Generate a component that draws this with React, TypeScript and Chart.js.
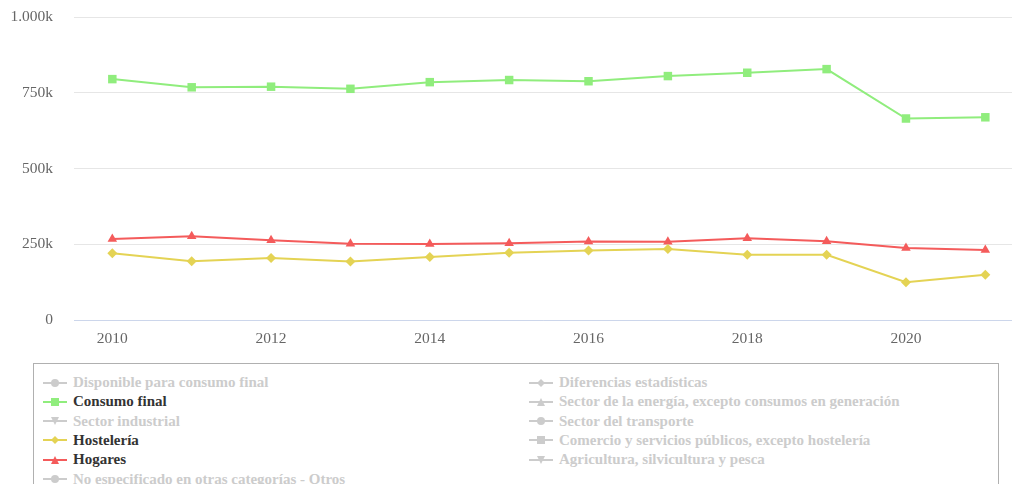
import React, { useEffect, useRef } from "react";
import { Chart, registerables } from "chart.js";

Chart.register(...registerables);

const years = [2010, 2011, 2012, 2013, 2014, 2015, 2016, 2017, 2018, 2019, 2020, 2021];
const xTickYears = [2010, 2012, 2014, 2016, 2018, 2020];
const yTickValues = [0, 250000, 500000, 750000, 1000000];

const consumoFinal = [795000, 768000, 770000, 763000, 785000, 792000, 788000, 805000, 816000, 828000, 665000, 669000];
const hosteleria = [220000, 194000, 205000, 193000, 208000, 222000, 229000, 234000, 215000, 215000, 125000, 149000];
const hogares = [267000, 276000, 263000, 252000, 251000, 253000, 259000, 258000, 270000, 260000, 238000, 231000];

const seriesNames = [
  "Disponible para consumo final",
  "Diferencias estadísticas",
  "Consumo final",
  "Sector de la energía, excepto consumos en generación",
  "Sector industrial",
  "Sector del transporte",
  "Hostelería",
  "Comercio y servicios públicos, excepto hostelería",
  "Hogares",
  "Agricultura, silvicultura y pesca",
  "No especificado en otras categorías - Otros",
];
const seriesColors = [
  "#7cb5ec", "#434348", "#90ed7d", "#f7a35c", "#8085e9", "#f15c80",
  "#e4d354", "#2b908f", "#f45b5b", "#91e8e1", "#7cb5ec",
];
const seriesSymbols = [
  "circle", "diamond", "square", "triangle", "triangle-down", "circle",
  "diamond", "square", "triangle", "triangle-down", "circle",
];
const seriesValues: number[][] = [[], [], consumoFinal, [], [], [], hosteleria, [], hogares, [], []];
const seriesVisible = [false, false, true, false, false, false, true, false, true, false, false];

const FONT = "'Liberation Serif', serif";

function pointStyleOf(sym: string) {
  if (sym === "diamond") return { style: "rectRot", radius: 5, rotation: 0 };
  if (sym === "square") return { style: "rect", radius: 6, rotation: 0 };
  if (sym === "triangle") return { style: "triangle", radius: 5.5, rotation: 0 };
  if (sym === "triangle-down") return { style: "triangle", radius: 5.5, rotation: 180 };
  return { style: "circle", radius: 4, rotation: 0 };
}

function fmt(v: number) {
  if (v === 0) return "0";
  const k = Math.round(v / 1000);
  return k.toLocaleString("de-DE") + "k";
}

function Symbol({ sym, color }: { sym: string; color: string }) {
  let shape: any = null;
  const cx = 12, cy = 6;
  if (sym === "circle") shape = <circle cx={cx} cy={cy} r={4} fill={color} />;
  else if (sym === "square") shape = <rect x={cx - 4} y={cy - 4} width={8} height={8} fill={color} />;
  else if (sym === "diamond") shape = <polygon points={`${cx},${cy - 4} ${cx + 4},${cy} ${cx},${cy + 4} ${cx - 4},${cy}`} fill={color} />;
  else if (sym === "triangle") shape = <polygon points={`${cx},${cy - 4} ${cx + 4},${cy + 4} ${cx - 4},${cy + 4}`} fill={color} />;
  else shape = <polygon points={`${cx - 4},${cy - 4} ${cx + 4},${cy - 4} ${cx},${cy + 4}`} fill={color} />;
  return (
    <svg width={24} height={12} style={{ display: "block", flex: "none" }}>
      <line x1={0} y1={cy} x2={24} y2={cy} stroke={color} strokeWidth={2} />
      {shape}
    </svg>
  );
}

export default function App() {
  const canvasRef = useRef<HTMLCanvasElement | null>(null);

  useEffect(() => {
    if (!canvasRef.current) return;
    const datasets = seriesNames.map((name, i) => {
      const ps = pointStyleOf(seriesSymbols[i]);
      return {
        label: name,
        data: seriesValues[i].map((v, j) => ({ x: years[j], y: v })),
        borderColor: seriesColors[i],
        backgroundColor: seriesColors[i],
        borderWidth: 2,
        pointStyle: ps.style as any,
        pointRadius: ps.radius,
        pointRotation: ps.rotation,
        pointBorderWidth: 0,
        pointHoverRadius: ps.radius,
        hidden: !seriesVisible[i],
        tension: 0,
      };
    });
    const chart = new Chart(canvasRef.current, {
      type: "line",
      data: { datasets },
      options: {
        animation: false,
        responsive: false,
        maintainAspectRatio: false,
        layout: { autoPadding: false, padding: { top: 17, right: 0, left: 0, bottom: 0 } },
        plugins: { legend: { display: false }, tooltip: { enabled: false }, title: { display: false } },
        scales: {
          x: {
            type: "linear",
            min: 2009.517,
            max: 2021.336,
            grid: { display: false, drawTicks: false },
            border: { display: true, color: "#ccd6eb", width: 1 },
            afterBuildTicks: (s: any) => {
              s.ticks = xTickYears.map((v) => ({ value: v }));
            },
            afterFit: (s: any) => {
              s.height = 40;
              s.paddingLeft = 0;
              s.paddingRight = 0;
            },
            ticks: {
              padding: 10,
              color: "#666666",
              font: { family: FONT, size: 15.5 },
              maxRotation: 0,
              autoSkip: false,
              callback: (v: any) => String(v),
            },
          },
          y: {
            type: "linear",
            min: 0,
            max: 1000000,
            grid: { color: "#e6e6e6", lineWidth: 1, drawTicks: false },
            border: { display: false },
            afterBuildTicks: (s: any) => {
              s.ticks = yTickValues.map((v) => ({ value: v }));
            },
            afterFit: (s: any) => {
              s.width = 74;
              s.paddingTop = 0;
              s.paddingBottom = 0;
            },
            ticks: {
              padding: 21,
              color: "#666666",
              font: { family: FONT, size: 15.5 },
              callback: (v: any) => fmt(Number(v)),
            },
          },
        },
      },
    });
    return () => chart.destroy();
  }, []);

  const rows: number[][] = [];
  for (let i = 0; i < seriesNames.length; i += 2) rows.push([i, i + 1].filter((k) => k < seriesNames.length));

  return (
    <div style={{ position: "fixed", left: 0, top: 0, width: 1012, height: 484, overflow: "hidden", background: "#ffffff" }}>
      <canvas ref={canvasRef} width={1012} height={360} style={{ position: "absolute", left: 0, top: 0, width: 1012, height: 360 }} />
      <div
        style={{
          position: "absolute",
          left: 33,
          top: 363,
          width: 966,
          height: 160,
          border: "1px solid #b0b0b0",
          boxSizing: "border-box",
          fontFamily: FONT,
          fontWeight: "bold",
          fontSize: 15,
        }}
      >
        {rows.map((r, ri) => (
          <div key={ri} style={{ position: "absolute", top: 9 + ri * 19.3, left: 0, height: 19, width: "100%" }}>
            {r.map((k, ci) => {
              const col = seriesVisible[k] ? seriesColors[k] : "#cccccc";
              return (
                <div
                  key={k}
                  style={{
                    position: "absolute",
                    left: ci === 0 ? 9 : 495,
                    top: 0,
                    height: 19,
                    display: "flex",
                    alignItems: "center",
                    whiteSpace: "nowrap",
                    color: seriesVisible[k] ? "#333333" : "#cccccc",
                  }}
                >
                  <Symbol sym={seriesSymbols[k]} color={col} />
                  <span style={{ marginLeft: 6 }}>{seriesNames[k]}</span>
                </div>
              );
            })}
          </div>
        ))}
      </div>
    </div>
  );
}
